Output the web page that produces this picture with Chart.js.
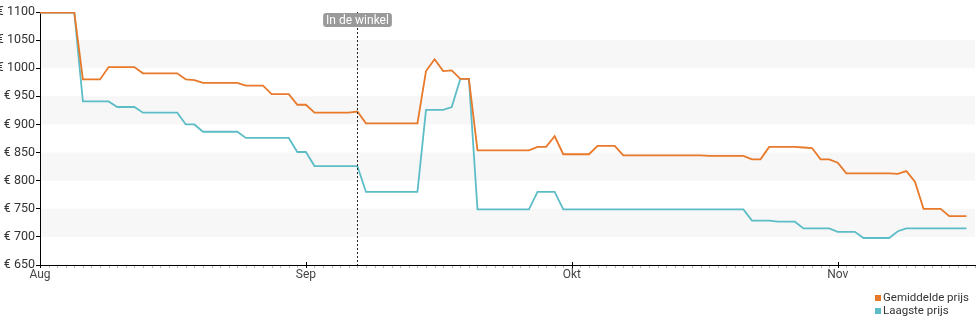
<!DOCTYPE html>
<html>
<head>
<meta charset="utf-8">
<script src="https://cdn.jsdelivr.net/npm/chart.js@4/dist/chart.umd.min.js"></script>
<style>
  html, body { margin: 0; padding: 0; background: #fff; }
  #wrap { position: relative; width: 980px; height: 325px; }
  #legend { position: absolute; left: 875px; top: 291px; font-family: Roboto, sans-serif; font-size: 11.5px; color: #333; line-height: 13px; }
  #legend .it { white-space: nowrap; }
  #legend .sw { display: inline-block; width: 6px; height: 6px; margin-right: 2px; vertical-align: 0px; }
</style>
</head>
<body>
<div id="wrap">
  <canvas id="c" width="980" height="325"></canvas>
  <div id="legend"></div>
</div>
<script>
// Month tick labels (positions in day units along the axis)
const monthLabels = ["Aug", "Sep", "Okt", "Nov"];
const monthPos = [0, 31, 62, 93];
const seriesNames = ["Gemiddelde prijs", "Laagste prijs"];
const annotationDay = 37;
const annotationText = "In de winkel";

// Daily values, day 0 = start of Aug
const gemiddelde = [
  1099,1099,1099,1099,1099, 980,980,980, 1002,1002,1002,1002,
  991,991,991,991,991, 980,979, 974,974,974,974,974,
  969,969,969, 954,954,954, 935,935, 921,921,921,921,921, 923,
  902,902,902,902,902,902,902, 995,1016,995,996, 981,981,
  854,854,854,854,854,854,854, 860,860, 879, 847,847,847,847,
  862,862,862, 845,845,845,845,845,845,845,845,845,845, 844,844,844,844,844,
  838,838, 860,860,860,860, 859,858, 838,838, 832,
  813,813,813,813,813,813, 812, 817, 798, 750,750,750, 737,737,737
];
const laagste = [
  1099,1099,1099,1099,1099, 941,941,941,941, 931,931,931,
  921,921,921,921,921, 900,900, 887,887,887,887,887,
  876,876,876,876,876,876, 851,851, 826,826,826,826,826,826,
  780,780,780,780,780,780,780, 926,926,926, 931, 981,981,
  749,749,749,749,749,749,749, 780,780,780,
  749,749,749,749,749,749,749,749,749,749,749,749,749,749,749,749,749,749,749,749,749,749,
  729,729,729, 727,727,727, 715,715,715,715, 709,709,709,
  698,698,698,698, 710, 715,715,715,715,715,715,715,715
];

const colors = ["#e8792b", "#5dbdc6"];
const toPts = arr => arr.map((v, i) => ({ x: i, y: v }));

const bgPlugin = {
  id: 'bands',
  beforeDraw(chart) {
    const { ctx, chartArea, scales } = chart;
    const y = scales.y;
    ctx.save();
    ctx.fillStyle = '#f7f7f7';
    for (let v = 700; v < 1100; v += 100) {
      const top = y.getPixelForValue(v + 50), bot = y.getPixelForValue(v);
      ctx.fillRect(chartArea.left, top, chartArea.right - chartArea.left, bot - top);
    }
    ctx.restore();
  },
  afterDraw(chart) {
    const { ctx, chartArea, scales } = chart;
    const x = scales.x;
    const b = chartArea.bottom;
    ctx.save();
    // minor ticks
    ctx.strokeStyle = '#bbb';
    ctx.lineWidth = 1;
    for (let d = 1; d <= 109; d++) {
      const px = Math.round(x.getPixelForValue(d)) + 0.5;
      ctx.beginPath(); ctx.moveTo(px, b + 1); ctx.lineTo(px, b + 3); ctx.stroke();
    }
    // major ticks
    ctx.strokeStyle = '#000';
    monthPos.forEach(p => {
      const px = Math.round(x.getPixelForValue(p)) + 0.5;
      ctx.beginPath(); ctx.moveTo(px, b - 3); ctx.lineTo(px, b + 3); ctx.stroke();
    });
    // annotation line
    const ax = Math.round(x.getPixelForValue(annotationDay)) + 0.5;
    ctx.strokeStyle = '#222';
    ctx.setLineDash([2, 2]);
    ctx.beginPath(); ctx.moveTo(ax, chartArea.top); ctx.lineTo(ax, b); ctx.stroke();
    ctx.setLineDash([]);
    // label
    ctx.font = '12px Roboto, sans-serif';
    const tw = ctx.measureText(annotationText).width;
    const w = tw + 6, h = 14;
    const lx = ax - w / 2, ly = chartArea.top + 1;
    ctx.fillStyle = '#9a9a9a';
    ctx.beginPath();
    ctx.roundRect(lx, ly, w, h, 3);
    ctx.fill();
    ctx.fillStyle = '#fff';
    ctx.textAlign = 'center';
    ctx.textBaseline = 'middle';
    ctx.fillText(annotationText, ax, ly + h / 2 + 0.5);
    ctx.restore();
  }
};

new Chart(document.getElementById('c'), {
  type: 'line',
  data: {
    datasets: [
      { label: seriesNames[0], data: toPts(gemiddelde), borderColor: colors[0], backgroundColor: colors[0], borderWidth: 1.8, pointRadius: 0, tension: 0 },
      { label: seriesNames[1], data: toPts(laagste), borderColor: colors[1], backgroundColor: colors[1], borderWidth: 1.8, pointRadius: 0, tension: 0 }
    ]
  },
  options: {
    responsive: false,
    animation: false,
    layout: { padding: { top: 12, right: 5, left: 0, bottom: 0 } },
    plugins: { legend: { display: false }, tooltip: { enabled: false } },
    scales: {
      x: {
        type: 'linear', min: 0, max: 109,
        afterBuildTicks: s => { s.ticks = monthPos.map(v => ({ value: v })); },
        afterFit: s => { s.height = 60; },
        grid: { display: false },
        border: { display: true, color: '#000', width: 1 },
        ticks: {
          autoSkip: false, maxRotation: 0, padding: -5,
          color: '#444', font: { family: 'Roboto', size: 12 },
          callback: v => { const i = monthPos.indexOf(v); return i >= 0 ? monthLabels[i] : ''; }
        }
      },
      y: {
        min: 650, max: 1100,
        afterFit: s => { s.width = 40; },
        grid: { drawOnChartArea: false, tickLength: 4, color: '#000' },
        border: { display: true, color: '#000', width: 1 },
        ticks: {
          stepSize: 50, padding: 1, color: '#333', font: { family: 'Roboto', size: 12.5 },
          callback: v => '€ ' + v
        }
      }
    }
  },
  plugins: [bgPlugin]
});

const lg = document.getElementById('legend');
seriesNames.forEach((n, i) => {
  const d = document.createElement('div');
  d.className = 'it';
  d.innerHTML = '<span class="sw" style="background:' + colors[i] + '"></span>';
  d.appendChild(document.createTextNode(n));
  lg.appendChild(d);
});
</script>
</body>
</html>
